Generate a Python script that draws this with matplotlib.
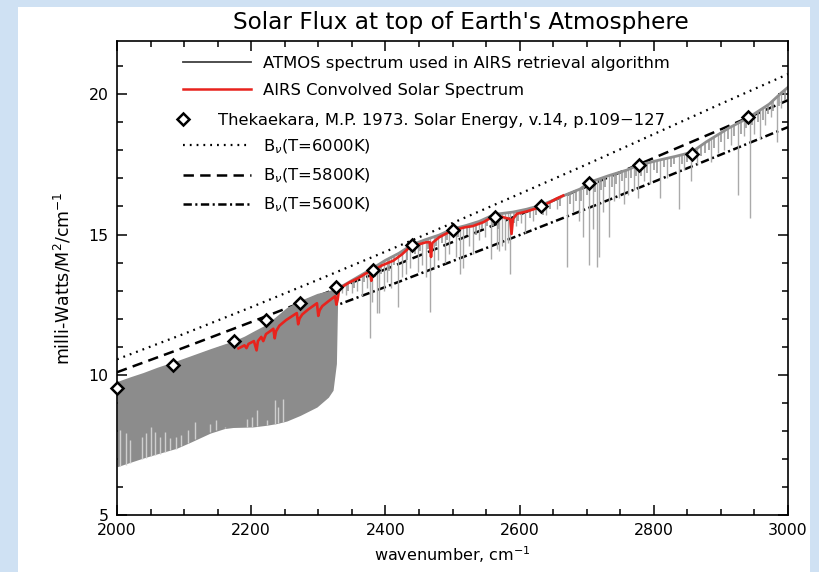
import matplotlib
matplotlib.use('Agg')
import matplotlib.pyplot as plt
from matplotlib.lines import Line2D
from matplotlib.patches import Rectangle
from matplotlib.path import Path
from matplotlib.ticker import MultipleLocator

plt.rcParams['font.family'] = ['DejaVu Sans']
plt.rcParams['lines.scale_dashes'] = False

# ---------------- data ----------------
title = "Solar Flux at top of Earth's Atmosphere"
xlabel = r'wavenumber, cm$^{-1}$'
ylabel = r'milli-Watts/M$^2$/cm$^{-1}$'
spectrum_labels = ['ATMOS spectrum used in AIRS retrieval algorithm',
                   'AIRS Convolved Solar Spectrum']
thek_label = 'Thekaekara, M.P. 1973. Solar Energy, v.14, p.109\u2212127'
planck_labels = [r'B$_\nu$(T=6000K)', r'B$_\nu$(T=5800K)', r'B$_\nu$(T=5600K)']

# Blackbody curves (mW/m2/cm-1 at top of atmosphere)
planck_wn = [2000, 2100, 2200, 2300, 2400, 2500, 2600, 2700, 2800, 2900, 3000]
b6000 = [10.55, 11.46, 12.41, 13.39, 14.39, 15.41, 16.45, 17.50, 18.58, 19.66, 20.72]
b5800 = [10.09, 10.97, 11.88, 12.81, 13.76, 14.73, 15.71, 16.71, 17.73, 18.75, 19.79]
b5600 = [9.64, 10.49, 11.35, 12.23, 13.13, 14.05, 14.98, 15.92, 16.88, 17.85, 18.83]

# ATMOS spectrum, dense part (2000-2330): envelope of the filled band
fill_wn = [2000, 2020, 2039, 2060, 2089, 2110, 2139, 2160, 2173, 2190, 2203, 2223,
           2238, 2253, 2273, 2298, 2315, 2322, 2327, 2329]
fill_hi = [9.76, 9.93, 10.08, 10.27, 10.50, 10.68, 10.93, 11.10, 11.20, 11.38, 11.55, 11.80,
           12.10, 12.40, 12.65, 12.90, 13.00, 13.05, 13.07, 13.07]
fill_lo = [6.72, 6.88, 7.03, 7.18, 7.38, 7.60, 7.92, 8.08, 8.12, 8.13, 8.14, 8.20,
           8.26, 8.35, 8.55, 8.85, 9.20, 9.45, 10.40, 12.90]

# lighter streaks inside the dense band
light_wn = [2004, 2013, 2020, 2037, 2043, 2050, 2057, 2064, 2072, 2079, 2088, 2096, 2106,
            2116, 2139, 2148, 2161, 2186, 2194, 2201, 2208, 2223, 2235, 2240, 2248]
light_lo = [6.73, 6.80, 6.85, 7.00, 7.05, 7.10, 7.13, 7.18, 7.24, 7.30, 7.37, 7.45, 7.57,
            7.70, 7.97, 8.03, 8.09, 8.12, 8.13, 8.14, 8.16, 8.21, 8.25, 8.27, 8.30]
light_hi = [8.02, 7.91, 7.67, 7.79, 7.91, 8.14, 7.97, 7.79, 7.97, 7.73, 7.79, 7.85, 8.02,
            8.32, 8.26, 8.38, 8.14, 8.14, 8.44, 8.50, 8.74, 8.38, 9.09, 8.85, 9.15]

# ATMOS spectrum, line part (2330-3000): continuum and absorption lines
cont_wn = [2328, 2340, 2360, 2380, 2400, 2420, 2440, 2460, 2480, 2500, 2520, 2540, 2563,
           2590, 2610, 2630, 2650, 2665, 2690, 2705, 2733, 2760, 2777, 2809, 2833, 2856,
           2878, 2912, 2940, 2972, 2990, 3000]
cont_val = [13.07, 13.22, 13.50, 13.78, 14.08, 14.33, 14.64, 14.82, 14.98, 15.20, 15.32,
            15.47, 15.72, 15.80, 15.90, 16.03, 16.22, 16.38, 16.62, 16.87, 17.10, 17.30,
            17.47, 17.66, 17.79, 17.93, 18.30, 18.80, 19.15, 19.65, 20.05, 20.25]
# deep absorption lines (bottom value of each line)
spike_wn = [2335, 2342, 2350, 2358, 2365, 2372, 2377, 2380, 2387, 2390, 2398, 2403, 2409,
            2419, 2425, 2430, 2436, 2449, 2455, 2460, 2467, 2472, 2478, 2489, 2495, 2505,
            2511, 2516, 2525, 2531, 2540, 2548, 2557, 2566, 2570, 2574, 2578, 2582, 2586,
            2595, 2602, 2608, 2620, 2640, 2655, 2670, 2680, 2688, 2695, 2704, 2710, 2715,
            2718, 2725, 2733, 2740, 2748, 2755, 2762, 2770, 2777, 2785, 2795, 2809, 2820,
            2838, 2845, 2856, 2865, 2885, 2895, 2905, 2915, 2926, 2934, 2943, 2950, 2958,
            2965, 2975, 2983, 2990]
spike_lo = [12.90, 12.85, 12.90, 13.00, 12.80, 13.10, 11.30, 12.60, 12.20, 12.20, 13.00,
            13.30, 13.10, 12.41, 13.50, 13.60, 13.80, 13.65, 13.90, 13.50, 12.23, 13.80,
            14.10, 14.00, 14.30, 14.20, 13.60, 13.80, 14.60, 14.30, 14.80, 14.90, 14.14,
            14.50, 14.40, 14.60, 14.45, 14.70, 13.60, 15.30, 15.40, 15.07, 15.50, 15.70,
            15.90, 13.84, 15.80, 15.50, 14.90, 13.90, 15.20, 13.84, 14.20, 15.80, 14.90,
            16.20, 16.30, 16.10, 16.40, 16.60, 16.30, 16.90, 16.80, 16.30, 17.00, 15.90,
            17.30, 16.90, 17.50, 17.60, 17.90, 18.00, 18.20, 16.40, 18.50, 15.60, 18.60,
            18.40, 18.90, 19.20, 18.30, 19.50]
# shallow lines forming the band just under the continuum
shallow_wn = [2345, 2353, 2368, 2385, 2393, 2406, 2413, 2432, 2444, 2452, 2463, 2476, 2484,
              2492, 2501, 2508, 2522, 2535, 2544, 2552, 2560, 2568, 2592, 2598, 2615, 2625,
              2635, 2645, 2660, 2675, 2684, 2692, 2700, 2712, 2722, 2728, 2737, 2744, 2752,
              2758, 2766, 2773, 2781, 2790, 2800, 2805, 2815, 2825, 2830, 2842, 2850, 2860,
              2870, 2876, 2882, 2890, 2900, 2910, 2920, 2930, 2938, 2946, 2955, 2962, 2970,
              2978, 2986, 2995]
shallow_lo = [13.0, 13.1, 13.3, 13.5, 13.6, 13.7, 13.9, 14.1, 14.3, 14.4, 14.5, 14.6, 14.7,
              14.8, 14.9, 14.9, 15.0, 15.0, 15.2, 15.3, 15.3, 15.2, 15.4, 15.5, 15.6, 15.7,
              15.7, 15.9, 16.0, 16.1, 16.2, 16.2, 16.4, 16.5, 16.6, 16.7, 16.7, 16.8, 16.9,
              17.0, 17.0, 17.1, 17.1, 17.2, 17.3, 17.2, 17.4, 17.4, 17.5, 17.5, 17.6, 17.7,
              17.8, 17.9, 18.0, 18.1, 18.3, 18.4, 18.5, 18.6, 18.8, 18.9, 19.0, 19.1, 19.3,
              19.4, 19.6, 19.8]

# AIRS convolved spectrum
red_wn = [2181, 2186, 2190, 2193, 2196, 2200, 2204, 2208, 2210, 2215, 2218, 2222, 2228,
          2233, 2235, 2237, 2242, 2252, 2268, 2270, 2272, 2276, 2285, 2298, 2300, 2302,
          2306, 2315, 2325, 2327, 2329, 2331, 2340, 2347, 2360, 2370, 2377, 2379, 2381,
          2395, 2412, 2425, 2439, 2450, 2460, 2466, 2468, 2470, 2480, 2499, 2519, 2530,
          2546, 2563, 2575, 2586, 2588, 2590, 2596, 2610, 2630, 2645, 2655, 2665]
red_val = [10.94, 11.00, 11.05, 10.95, 11.10, 11.15, 11.20, 10.87, 11.20, 11.35, 11.20,
           11.45, 11.55, 11.64, 11.30, 11.55, 11.75, 11.95, 12.20, 11.80, 12.00, 12.15,
           12.33, 12.55, 12.10, 12.30, 12.45, 12.62, 12.80, 12.50, 12.70, 13.05, 13.20,
           13.30, 13.45, 13.60, 13.68, 13.35, 13.70, 13.90, 14.07, 14.30, 14.61, 14.65,
           14.72, 14.73, 14.20, 14.70, 14.90, 15.14, 15.26, 15.30, 15.44, 15.68, 15.62,
           15.55, 15.02, 15.55, 15.74, 15.82, 15.97, 16.15, 16.28, 16.39]

# Thekaekara (1973) points
thek_wn = [2000, 2083, 2174, 2222, 2273, 2326, 2381, 2439, 2500, 2564, 2632, 2703,
           2778, 2857, 2941]
thek_val = [9.54, 10.34, 11.20, 11.94, 12.56, 13.13, 13.75, 14.61, 15.17, 15.64, 16.01,
            16.83, 17.48, 17.87, 19.20]

# ---------------- styles ----------------
dot_ls = (0, (1.3, 3.6))
dash_ls = (0, (7.5, 4.5))
dashdot_ls = (0, (6.0, 2.5, 1.5, 2.5))
red = '#e8231d'
diamond = dict(marker='D', ms=6.3, mfc='white', mec='k', mew=1.8)
leg_kw = dict(loc='upper left', frameon=False, fontsize=11.8, borderpad=0, borderaxespad=0)

fig = plt.figure(figsize=(8.19, 5.72), dpi=100, facecolor='#cfe1f3')
fig.patches.append(Rectangle((18 / 819, 0), (810 - 18) / 819, 1 - 7 / 572,
                             transform=fig.transFigure, facecolor='white',
                             edgecolor='none', zorder=-10))
ax = fig.add_axes([117 / 819, 1 - 515 / 572, 671 / 819, 474 / 572])

ax.plot(planck_wn, b6000, color='k', lw=1.6, ls=dot_ls, zorder=1)
ax.plot(planck_wn, b5800, color='k', lw=1.8, ls=dash_ls, zorder=1)
ax.plot(planck_wn, b5600, color='k', lw=1.8, ls=dashdot_ls, zorder=1)

ax.fill_between(fill_wn, fill_lo, fill_hi, color='#8c8c8c', lw=0, zorder=2)
ax.vlines(light_wn, light_lo, light_hi, color='#cfcfcf', lw=1.0, zorder=2.1)

ymin, ymax = 5, 21.9
clip_verts = (list(zip(cont_wn, cont_val))
              + [(cont_wn[-1], ymin), (cont_wn[0], ymin), (cont_wn[0], cont_val[0])])
clip_path = Path(clip_verts)
sp = ax.vlines(spike_wn, spike_lo, ymax, color='#aaaaaa', lw=1.0, zorder=2)
sp.set_clip_path(clip_path, ax.transData)
sh = ax.vlines(shallow_wn, shallow_lo, ymax, color='#9a9a9a', lw=1.2, zorder=2)
sh.set_clip_path(clip_path, ax.transData)
ax.plot(cont_wn, cont_val, color='#8f8f8f', lw=2.0, zorder=2.2)

ax.plot(red_wn, red_val, color=red, lw=1.9, zorder=3)
ax.plot(thek_wn, thek_val, ls='none', zorder=4, clip_on=False, **diamond)

ax.set_xlim(2000, 3000)
ax.set_ylim(ymin, ymax)
ax.xaxis.set_major_locator(MultipleLocator(200))
ax.xaxis.set_minor_locator(MultipleLocator(50))
ax.yaxis.set_major_locator(MultipleLocator(5))
ax.yaxis.set_minor_locator(MultipleLocator(1))
ax.tick_params(which='both', direction='in', top=True, right=True, width=1.1)
ax.tick_params(which='major', length=7.5, labelsize=11.3, pad=6)
ax.tick_params(which='minor', length=4)
for s in ax.spines.values():
    s.set_linewidth(1.2)

ax.set_title(title, fontsize=16.7, pad=9, x=0.513)
ax.set_xlabel(xlabel, fontsize=11.5, labelpad=4)
ax.set_ylabel(ylabel, fontsize=12.5, labelpad=11)

# legend block 1: spectra
spec_handles = [Line2D([], [], color='#404040', lw=1.3),
                Line2D([], [], color=red, lw=1.8)]
leg1 = ax.legend(spec_handles, spectrum_labels, bbox_to_anchor=(0.0984, 0.9685),
                 handlelength=4.15, handletextpad=0.73, labelspacing=0.74, **leg_kw)
ax.add_artist(leg1)
# legend block 2: Thekaekara points
leg2 = ax.legend([Line2D([], [], ls='none', **diamond)], [thek_label],
                 bbox_to_anchor=(0.0864, 0.849), handlelength=1.0, handletextpad=1.65,
                 **leg_kw)
ax.add_artist(leg2)
# legend block 3: blackbody curves
planck_handles = [Line2D([], [], color='k', lw=1.6, ls=dot_ls),
                  Line2D([], [], color='k', lw=1.8, ls=dash_ls),
                  Line2D([], [], color='k', lw=1.8, ls=dashdot_ls)]
ax.legend(planck_handles, planck_labels, bbox_to_anchor=(0.0984, 0.7964),
          handlelength=4.15, handletextpad=0.73, labelspacing=0.66, **leg_kw)

fig.savefig('out.png', dpi=100, facecolor=fig.get_facecolor())
